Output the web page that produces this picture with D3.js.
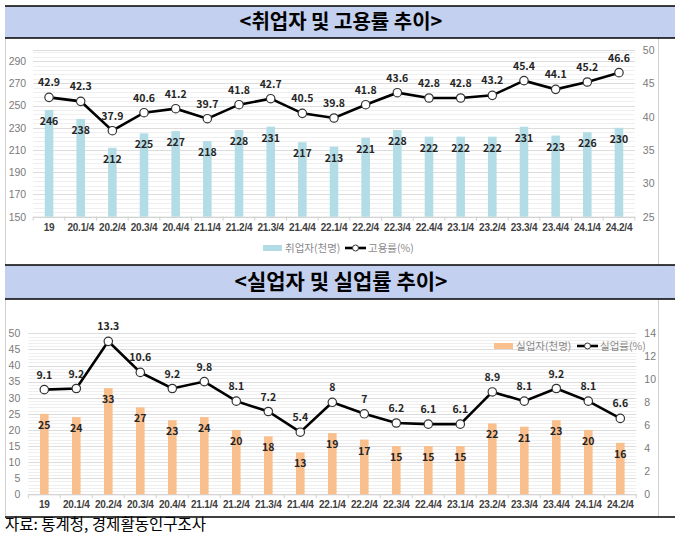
<!DOCTYPE html>
<html><head><meta charset="utf-8">
<script src="https://cdn.jsdelivr.net/npm/d3@7"></script>
<style>
html,body{margin:0;padding:0;background:#fff;}
svg{display:block;font-family:"Noto Sans CJK KR","Noto Sans",sans-serif;}
</style></head>
<body>
<svg id="c" width="675" height="540"></svg>
<script>
const categories = ["19","20.1/4","20.2/4","20.3/4","20.4/4","21.1/4","21.2/4","21.3/4","21.4/4","22.1/4","22.2/4","22.3/4","22.4/4","23.1/4","23.2/4","23.3/4","23.4/4","24.1/4","24.2/4"];
const employed = [246,238,212,225,227,218,228,231,217,213,221,228,222,222,222,231,223,226,230];
const employmentRate = [42.9,42.3,37.9,40.6,41.2,39.7,41.8,42.7,40.5,39.8,41.8,43.6,42.8,42.8,43.2,45.4,44.1,45.2,46.6];
const unemployed = [25,24,33,27,23,24,20,18,13,19,17,15,15,15,22,21,23,20,16];
const unemploymentRate = [9.1,9.2,13.3,10.6,9.2,9.8,8.1,7.2,5.4,8,7,6.2,6.1,6.1,8.9,8.1,9.2,8.1,6.6];
const topLeftTicks = [150,170,190,210,230,250,270,290];
const topRightTicks = [25,30,35,40,45,50];
const botLeftTicks = [0,5,10,15,20,25,30,35,40,45,50];
const botRightTicks = [0,2,4,6,8,10,12,14];
const titles = ["<취업자 및 고용률 추이>","<실업자 및 실업률 추이>"];
const legendTop = ["취업자(천명)","고용률(%)"];
const legendBot = ["실업자(천명)","실업률(%)"];
const source = "자료: 통계청, 경제활동인구조사";

const svg = d3.select("#c");

function band(y0,y1,text,size){
  svg.append("rect").attr("x",5).attr("y",y0).attr("width",670).attr("height",y1-y0).attr("fill","#c4d0ef");
  svg.append("line").attr("x1",5).attr("x2",675).attr("y1",y0).attr("y2",y0).attr("stroke","#000").attr("stroke-width",1.5);
  svg.append("line").attr("x1",5).attr("x2",675).attr("y1",y1).attr("y2",y1).attr("stroke","#000").attr("stroke-width",1.5);
  svg.append("text").attr("x",341).attr("y",(y0+y1)/2+7).attr("text-anchor","middle")
    .attr("font-size",size).attr("font-weight","bold").attr("fill","#000").text(text);
}
function box(y0,y1){
  svg.append("line").attr("x1",5.5).attr("x2",5.5).attr("y1",y0).attr("y2",y1).attr("stroke","#d0d0d0");
  svg.append("line").attr("x1",658.5).attr("x2",658.5).attr("y1",y0).attr("y2",y1).attr("stroke","#d0d0d0");
}
box(38,265); box(299,517);
band(6,38,titles[0],20);
band(265,299,titles[1],21);
svg.append("line").attr("x1",5).attr("x2",675).attr("y1",517).attr("y2",517).attr("stroke","#000").attr("stroke-width",1.5);
svg.append("text").attr("x",5).attr("y",530).attr("font-size",15.5).attr("fill","#000").text(source);

function panel(o){
  const g = svg.append("g");
  const x = d3.scaleBand().domain(categories).range(o.xr).padding(0);
  const yL = d3.scaleLinear().domain(o.yLd).range(o.yr);
  const yR = d3.scaleLinear().domain(o.yRd).range(o.yr);
  g.append("g").selectAll("line").data(d3.range(o.yLd[0],o.yLd[1]+0.001,o.minor)).join("line")
    .attr("x1",o.xr[0]).attr("x2",o.xr[1]).attr("y1",d=>Math.round(yL(d))+0.5).attr("y2",d=>Math.round(yL(d))+0.5)
    .attr("stroke","#efefef").attr("stroke-width",1);
  g.append("g").selectAll("line").data(o.majorGrid).join("line")
    .attr("x1",o.xr[0]).attr("x2",o.xr[1]).attr("y1",d=>Math.round(yL(d))+0.5).attr("y2",d=>Math.round(yL(d))+0.5)
    .attr("stroke","#dcdcdc").attr("stroke-width",1);
  const xa = g.append("g").attr("transform",`translate(0,${o.yr[0]})`)
    .call(d3.axisBottom(x).tickSize(0).tickPadding(7));
  xa.select(".domain").attr("stroke","#d0d0d0");
  xa.selectAll("text").attr("font-size",10).attr("font-weight","bold").attr("fill","#404040")
    .attr("letter-spacing","-0.2px")
    .attr("font-family",'"Liberation Sans",Arial,sans-serif');
  g.append("g").selectAll("line").data(d3.range(categories.length+1)).join("line")
    .attr("x1",i=>o.xr[0]+i*x.step()).attr("x2",i=>o.xr[0]+i*x.step())
    .attr("y1",o.yr[0]).attr("y2",o.yr[0]+4).attr("stroke","#d0d0d0");
  const la = g.append("g").attr("transform",`translate(${o.xr[0]},0)`)
    .call(d3.axisLeft(yL).tickValues(o.lTicks).tickSize(0).tickPadding(o.lPad));
  la.select(".domain").remove();
  la.selectAll("text").attr("font-size",10.5).attr("fill","#7a7a7a");
  const ra = g.append("g").attr("transform",`translate(${o.xr[1]},0)`)
    .call(d3.axisRight(yR).tickValues(o.rTicks).tickSize(0).tickPadding(o.rPad));
  ra.select(".domain").remove();
  ra.selectAll("text").attr("font-size",10.5).attr("fill","#7a7a7a");
  const bw = x.bandwidth()*0.27;
  g.append("g").selectAll("rect").data(o.bars).join("rect")
    .attr("x",(d,i)=>x(categories[i])+x.bandwidth()/2-bw/2).attr("width",bw)
    .attr("y",d=>yL(d)).attr("height",d=>yL(o.yLd[0])-yL(d)).attr("fill",o.barColor);
  g.append("g").selectAll("text").data(o.bars).join("text")
    .attr("x",(d,i)=>x(categories[i])+x.bandwidth()/2).attr("y",d=>yL(d)+15)
    .attr("text-anchor","middle").attr("font-size",10.5).attr("font-weight","bold").attr("fill","#262626").text(d=>d);
  const line = d3.line().x((d,i)=>x(categories[i])+x.bandwidth()/2).y(d=>yR(d));
  g.append("path").datum(o.rate).attr("d",line).attr("fill","none").attr("stroke","#000").attr("stroke-width",2.6);
  g.append("g").selectAll("circle").data(o.rate).join("circle")
    .attr("cx",(d,i)=>x(categories[i])+x.bandwidth()/2).attr("cy",d=>yR(d)).attr("r",4.2)
    .attr("fill","#fff").attr("stroke","#333").attr("stroke-width",1.2);
  g.append("g").selectAll("text").data(o.rate).join("text")
    .attr("x",(d,i)=>x(categories[i])+x.bandwidth()/2).attr("y",d=>yR(d)-11)
    .attr("text-anchor","middle").attr("font-size",10.5).attr("font-weight","bold").attr("fill","#262626").text(d=>d);
  const L = o.legend;
  svg.append("rect").attr("x",L.x0).attr("y",L.y-3).attr("width",19).attr("height",6).attr("fill",o.barColor);
  svg.append("text").attr("x",L.x0+22).attr("y",L.y+4).attr("font-size",10.5).attr("fill","#8a8a8a").text(o.legendText[0]);
  svg.append("line").attr("x1",L.x1).attr("x2",L.x1+21).attr("y1",L.y).attr("y2",L.y).attr("stroke","#000").attr("stroke-width",2.6);
  svg.append("circle").attr("cx",L.x1+10.5).attr("cy",L.y).attr("r",3).attr("fill","#fff").attr("stroke","#333");
  svg.append("text").attr("x",L.x1+23).attr("y",L.y+4).attr("font-size",10.5).attr("fill","#8a8a8a").text(o.legendText[1]);
}

panel({xr:[33.2,634.8], yr:[216.7,50], yLd:[150,300], yRd:[25,50], minor:4, majorGrid:[150,170,190,210,230,250,270,290,300],
  lTicks:topLeftTicks, rTicks:topRightTicks, lPad:7, rPad:8, bars:employed, rate:employmentRate, barColor:"#b2dce6",
  legend:{x0:263,x1:345,y:248}, legendText:legendTop});
panel({xr:[28.3,636.3], yr:[494.3,333.3], yLd:[0,50], yRd:[0,14], minor:1, majorGrid:botLeftTicks,
  lTicks:botLeftTicks, rTicks:botRightTicks, lPad:8, rPad:8, bars:unemployed, rate:unemploymentRate, barColor:"#f9c08e",
  legend:{x0:494,x1:577,y:346}, legendText:legendBot});
</script>
</body></html>
